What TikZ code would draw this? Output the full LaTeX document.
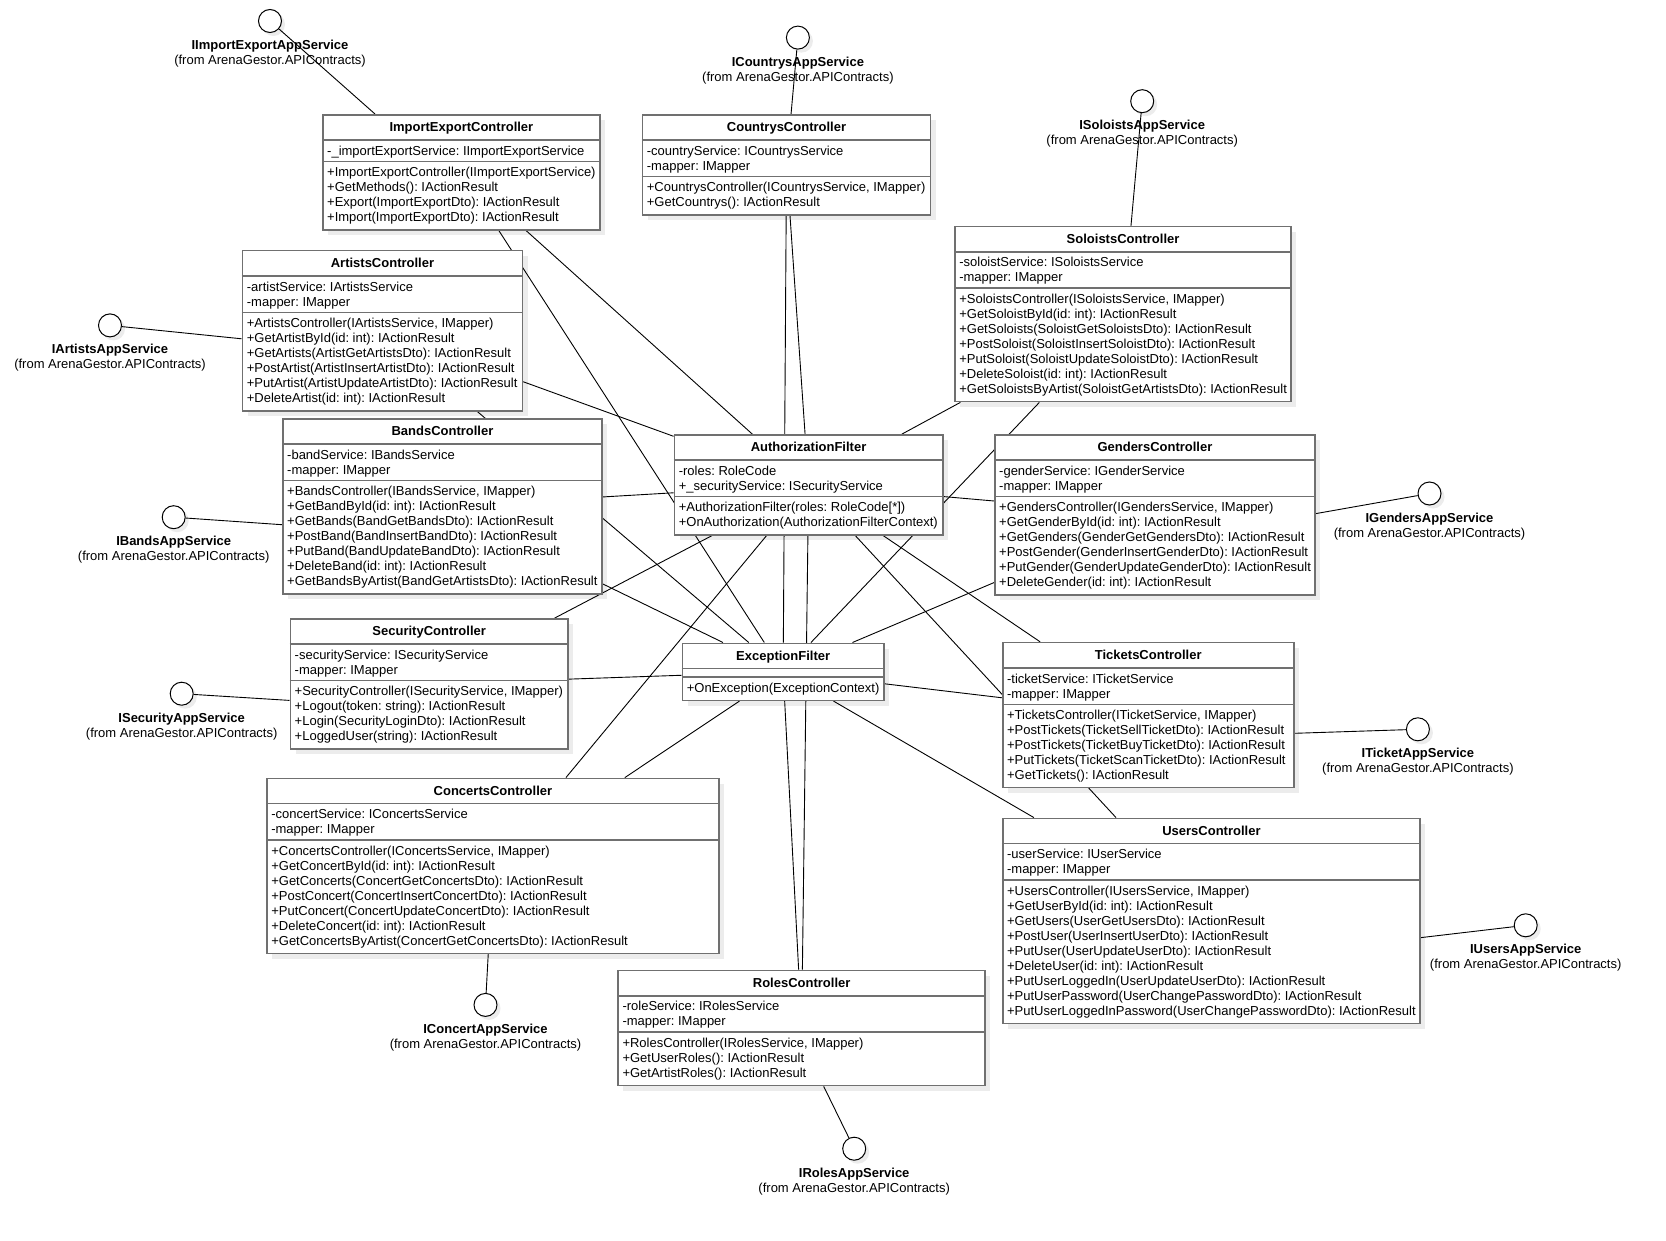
\documentclass[tikz,border=0pt]{standalone}
\usepackage{fontspec}
\setmainfont{Liberation Sans}
\frenchspacing
\usetikzlibrary{calc}
\pgfdeclarelayer{shadowlayer}
\pgfdeclarelayer{linelayer}
\pgfsetlayers{shadowlayer,linelayer,main}
\definecolor{boxgray}{RGB}{112,112,112}
\definecolor{shadowc}{RGB}{236,236,236}
\tikzset{
 clsbox/.style={rectangle, draw=boxgray, line width=1.6pt, fill=white, inner sep=0pt},
 clssep/.style={draw=boxgray, line width=1.6pt},
 titlest/.style={font=\fontsize{13}{15}\selectfont\bfseries, inner sep=0pt},
 memst/.style={font=\fontsize{13}{15}\selectfont, inner sep=0pt, align=left},
 conn/.style={draw=black, line width=0.9pt},
 ifc/.style={circle, draw=black, line width=1pt, fill=white, minimum size=23pt, inner sep=0pt},
 ifname/.style={font=\fontsize{13}{15}\selectfont\bfseries, inner sep=0pt, anchor=base},
 iffrom/.style={font=\fontsize{13}{15}\selectfont, inner sep=0pt, anchor=base},
}
% #1 name, #2 (x,y) top-left, #3 width, #4 no. attrs, #5 no. methods, #6 title, #7 attrs, #8 methods
\newcommand{\umlclass}[8]{%
 \pgfmathsetmacro\hA{(#4==0) ? 8.5 : 15*#4+6.5}%
 \pgfmathsetmacro\hM{15*#5+7.5}%
 \pgfmathsetmacro\hT{26+\hA+\hM}%
 \pgfmathsetmacro\sB{26+\hA}%
 \begin{pgfonlayer}{shadowlayer}
   \fill[shadowc] ($#2+(6,6)$) rectangle ++(#3,\hT);
 \end{pgfonlayer}
 \node[clsbox, minimum width=#3pt, minimum height=\hT pt, anchor=north west] (#1) at #2 {};
 \draw[clssep] ($(#1.north west)+(0,26)$) -- ($(#1.north east)+(0,26)$);
 \draw[clssep] ($(#1.north west)+(0,\sB)$) -- ($(#1.north east)+(0,\sB)$);
 \node[titlest, anchor=base] (#1-t) at ($(#1.north)+(0,17.5)$) {#6};
 \ifnum#4>0
 \node[memst, anchor=north west] (#1-a) at ($(#1.north west)+(5,30)$) {\rule{0pt}{11pt}#7};
 \fi
 \node[memst, anchor=north west] (#1-m) at ($(#1.north west)+(5,\sB+4)$) {\rule{0pt}{11pt}#8};
}
% #1 name, #2 (x,y) circle centre, #3 label
\newcommand{\umliface}[3]{%
 \begin{pgfonlayer}{shadowlayer}
   \fill[shadowc] ($#2+(3.5,3.5)$) circle[radius=11.5pt];
 \end{pgfonlayer}
 \node[ifc] (#1) at #2 {};
 \node[ifname] (#1-n) at ($#2+(0,28.5)$) {#3};
 \node[iffrom] (#1-f) at ($#2+(0,43.5)$) {(from ArenaGestor.APIContracts)};
}
\begin{document}
\begin{tikzpicture}[x=1pt,y=-1pt]
\useasboundingbox (0,0) rectangle (1666,1241);
\begin{pgfonlayer}{shadowlayer}
\fill[white] (0,0) rectangle (1666,1241);
\end{pgfonlayer}

\umlclass{IEC}{(322,114)}{277.2}{1}{4}{ImportExportController}
 {-\_importExportService: IImportExportService}
 {+ImportExportController(IImportExportService)\\+GetMethods(): IActionResult\\+Export(ImportExportDto): IActionResult\\+Import(ImportExportDto): IActionResult}

\umlclass{CC}{(641.7,114)}{288}{2}{2}{CountrysController}
 {-countryService: ICountrysService\\-mapper: IMapper}
 {+CountrysController(ICountrysService, IMapper)\\+GetCountrys(): IActionResult}

\umlclass{SC}{(954.1,225.8)}{336.3}{2}{7}{SoloistsController}
 {-soloistService: ISoloistsService\\-mapper: IMapper}
 {+SoloistsController(ISoloistsService, IMapper)\\+GetSoloistById(id: int): IActionResult\\+GetSoloists(SoloistGetSoloistsDto): IActionResult\\+PostSoloist(SoloistInsertSoloistDto): IActionResult\\+PutSoloist(SoloistUpdateSoloistDto): IActionResult\\+DeleteSoloist(id: int): IActionResult\\+GetSoloistsByArtist(SoloistGetArtistsDto): IActionResult}

\umlclass{AC}{(241.7,249.9)}{279.9}{2}{6}{ArtistsController}
 {-artistService: IArtistsService\\-mapper: IMapper}
 {+ArtistsController(IArtistsService, IMapper)\\+GetArtistById(id: int): IActionResult\\+GetArtists(ArtistGetArtistsDto): IActionResult\\+PostArtist(ArtistInsertArtistDto): IActionResult\\+PutArtist(ArtistUpdateArtistDto): IActionResult\\+DeleteArtist(id: int): IActionResult}

\umlclass{BC}{(282,418)}{319.3}{2}{7}{BandsController}
 {-bandService: IBandsService\\-mapper: IMapper}
 {+BandsController(IBandsService, IMapper)\\+GetBandById(id: int): IActionResult\\+GetBands(BandGetBandsDto): IActionResult\\+PostBand(BandInsertBandDto): IActionResult\\+PutBand(BandUpdateBandDto): IActionResult\\+DeleteBand(id: int): IActionResult\\+GetBandsByArtist(BandGetArtistsDto): IActionResult}

\umlclass{AF}{(673.6,434.1)}{268.3}{2}{2}{AuthorizationFilter}
 {-roles: RoleCode\\+\_securityService: ISecurityService}
 {+AuthorizationFilter(roles: RoleCode[*])\\+OnAuthorization(AuthorizationFilterContext)}

\umlclass{GC}{(994,434.1)}{320.3}{2}{6}{GendersController}
 {-genderService: IGenderService\\-mapper: IMapper}
 {+GendersController(IGendersService, IMapper)\\+GetGenderById(id: int): IActionResult\\+GetGenders(GenderGetGendersDto): IActionResult\\+PostGender(GenderInsertGenderDto): IActionResult\\+PutGender(GenderUpdateGenderDto): IActionResult\\+DeleteGender(id: int): IActionResult}

\umlclass{SeC}{(289.5,618.1)}{277.8}{2}{4}{SecurityController}
 {-securityService: ISecurityService\\-mapper: IMapper}
 {+SecurityController(ISecurityService, IMapper)\\+Logout(token: string): IActionResult\\+Login(SecurityLoginDto): IActionResult\\+LoggedUser(string): IActionResult}

\umlclass{EF}{(681.6,642.5)}{201.5}{0}{1}{ExceptionFilter}
 {}
 {+OnException(ExceptionContext)}

\umlclass{TC}{(1001.9,641.8)}{291.1}{2}{5}{TicketsController}
 {-ticketService: ITicketService\\-mapper: IMapper}
 {+TicketsController(ITicketService, IMapper)\\+PostTickets(TicketSellTicketDto): IActionResult\\+PostTickets(TicketBuyTicketDto): IActionResult\\+PutTickets(TicketScanTicketDto): IActionResult\\+GetTickets(): IActionResult}

\umlclass{CoC}{(266.1,777.6)}{452.1}{2}{7}{ConcertsController}
 {-concertService: IConcertsService\\-mapper: IMapper}
 {+ConcertsController(IConcertsService, IMapper)\\+GetConcertById(id: int): IActionResult\\+GetConcerts(ConcertGetConcertsDto): IActionResult\\+PostConcert(ConcertInsertConcertDto): IActionResult\\+PutConcert(ConcertUpdateConcertDto): IActionResult\\+DeleteConcert(id: int): IActionResult\\+GetConcertsByArtist(ConcertGetConcertsDto): IActionResult}

\umlclass{UC}{(1001.9,817.6)}{417.5}{2}{9}{UsersController}
 {-userService: IUserService\\-mapper: IMapper}
 {+UsersController(IUsersService, IMapper)\\+GetUserById(id: int): IActionResult\\+GetUsers(UserGetUsersDto): IActionResult\\+PostUser(UserInsertUserDto): IActionResult\\+PutUser(UserUpdateUserDto): IActionResult\\+DeleteUser(id: int): IActionResult\\+PutUserLoggedIn(UserUpdateUserDto): IActionResult\\+PutUserPassword(UserChangePasswordDto): IActionResult\\+PutUserLoggedInPassword(UserChangePasswordDto): IActionResult}

\umlclass{RC}{(617.3,969.7)}{367.1}{2}{3}{RolesController}
 {-roleService: IRolesService\\-mapper: IMapper}
 {+RolesController(IRolesService, IMapper)\\+GetUserRoles(): IActionResult\\+GetArtistRoles(): IActionResult}

\umliface{iIE}{(270,21)}{IImportExportAppService}
\umliface{iCC}{(797.9,37.6)}{ICountrysAppService}
\umliface{iSC}{(1142.2,101.2)}{ISoloistsAppService}
\umliface{iAC}{(110,325.4)}{IArtistsAppService}
\umliface{iBC}{(173.7,517.2)}{IBandsAppService}
\umliface{iSeC}{(181.7,693.7)}{ISecurityAppService}
\umliface{iCoC}{(485.5,1004.9)}{IConcertAppService}
\umliface{iRC}{(854.2,1148.7)}{IRolesAppService}
\umliface{iUC}{(1525.7,925.3)}{IUsersAppService}
\umliface{iTC}{(1417.9,729.3)}{ITicketAppService}
\umliface{iGC}{(1429.5,493.5)}{IGendersAppService}

\begin{pgfonlayer}{linelayer}
\foreach \c in {IEC,CC,SC,AC,BC,GC,SeC,TC,CoC,UC,RC}{
  \draw[conn] (\c) -- (AF);
  \draw[conn] (\c) -- (EF);
}
\draw[conn] (iIE) -- ($(IEC.north west)+(53,0)$);
\draw[conn] (iCC) -- (CC);
\draw[conn] (iSC) -- (SC);
\draw[conn] (iAC) -- ($(AC.west)+(0,8.1)$);
\draw[conn] (iBC) -- ($(BC.west)+(0,18.4)$);
\draw[conn] (iSeC) -- ($(SeC.west)+(0,16.5)$);
\draw[conn] (iCoC) -- (CoC);
\draw[conn] (iRC) -- ($(RC.south)+(22,0)$);
\draw[conn] (iTC) -- ($(TC.east)+(0,18.2)$);
\draw[conn] (iUC) -- ($(UC.east)+(0,16.7)$);
\draw[conn] (iGC) -- ($(GC.east)+(0,-1.3)$);
\end{pgfonlayer}
\end{tikzpicture}
\end{document}
